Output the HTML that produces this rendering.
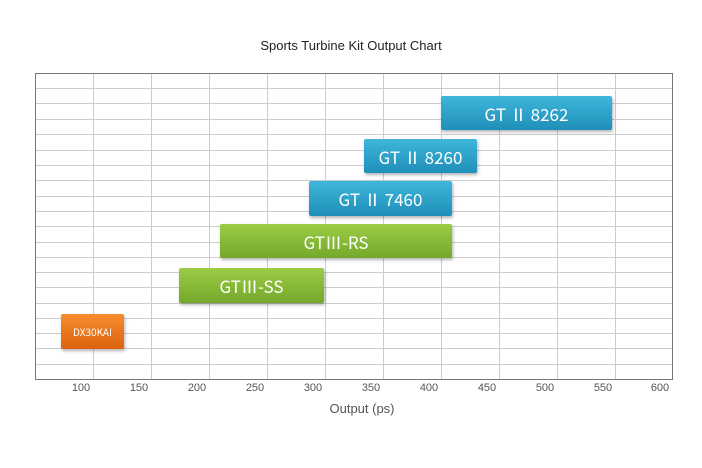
<!DOCTYPE html>
<html><head><meta charset="utf-8"><style>
body{margin:0;width:702px;height:468px;background:#fff;position:relative;overflow:hidden;font-family:"Liberation Sans","Noto Sans CJK JP",sans-serif}
.a{position:absolute}
.bar{position:absolute;color:#fff;display:flex;align-items:center;justify-content:center;font-size:17px;box-shadow:1px 2px 3px rgba(0,0,0,.3);border-radius:2px;font-family:"Noto Sans CJK JP",sans-serif}
.b{background:linear-gradient(#3fb6dc,#1f8fb8)}
.g{background:linear-gradient(#9ccc45,#74a82b)}
.o{background:linear-gradient(#f68d2e,#dc6210);font-size:10px}
.t{position:absolute;top:382px;font-size:11px;color:#555;width:40px;text-align:center}
</style></head><body>
<div class="a" style="left:0;width:702px;top:38px;text-align:center;font-size:13px;color:#222">Sports Turbine Kit Output Chart</div>
<svg class="a" style="left:0;top:0" width="702" height="468">
<g stroke="#ccc" stroke-width="1">
<line x1="35" x2="672" y1="88.5" y2="88.5"/><line x1="35" x2="672" y1="103.5" y2="103.5"/><line x1="35" x2="672" y1="119.5" y2="119.5"/><line x1="35" x2="672" y1="134.5" y2="134.5"/><line x1="35" x2="672" y1="150.5" y2="150.5"/><line x1="35" x2="672" y1="165.5" y2="165.5"/><line x1="35" x2="672" y1="180.5" y2="180.5"/><line x1="35" x2="672" y1="196.5" y2="196.5"/><line x1="35" x2="672" y1="211.5" y2="211.5"/><line x1="35" x2="672" y1="226.5" y2="226.5"/><line x1="35" x2="672" y1="242.5" y2="242.5"/><line x1="35" x2="672" y1="257.5" y2="257.5"/><line x1="35" x2="672" y1="272.5" y2="272.5"/><line x1="35" x2="672" y1="287.5" y2="287.5"/><line x1="35" x2="672" y1="303.5" y2="303.5"/><line x1="35" x2="672" y1="318.5" y2="318.5"/><line x1="35" x2="672" y1="333.5" y2="333.5"/><line x1="35" x2="672" y1="348.5" y2="348.5"/><line x1="35" x2="672" y1="364.5" y2="364.5"/>
<line y1="73" y2="379" x1="93.5" x2="93.5"/><line y1="73" y2="379" x1="151.5" x2="151.5"/><line y1="73" y2="379" x1="209.5" x2="209.5"/><line y1="73" y2="379" x1="267.5" x2="267.5"/><line y1="73" y2="379" x1="325.5" x2="325.5"/><line y1="73" y2="379" x1="383.5" x2="383.5"/><line y1="73" y2="379" x1="441.5" x2="441.5"/><line y1="73" y2="379" x1="499.5" x2="499.5"/><line y1="73" y2="379" x1="557.5" x2="557.5"/><line y1="73" y2="379" x1="615.5" x2="615.5"/>
</g>
<rect x="35.5" y="73.5" width="637" height="306" fill="none" stroke="#777"/>
</svg>
<div class="bar b" style="left:441px;top:96px;width:171px;height:34px">GT Ⅱ 8262</div>
<div class="bar b" style="left:364px;top:139px;width:113px;height:34px">GT Ⅱ 8260</div>
<div class="bar b" style="left:309px;top:181px;width:143px;height:35px">GT Ⅱ 7460</div>
<div class="bar g" style="left:220px;top:224px;width:232px;height:34px">GTⅢ-RS</div>
<div class="bar g" style="left:179px;top:268px;width:145px;height:35px">GTⅢ-SS</div>
<div class="bar o" style="left:61px;top:314px;width:63px;height:35px">DX30KAI</div>
<div class="t" style="left:61px">100</div><div class="t" style="left:119px">150</div><div class="t" style="left:177px">200</div><div class="t" style="left:235px">250</div><div class="t" style="left:293px">300</div><div class="t" style="left:351px">350</div><div class="t" style="left:409px">400</div><div class="t" style="left:467px">450</div><div class="t" style="left:525px">500</div><div class="t" style="left:583px">550</div><div class="t" style="left:640px">600</div>
<div class="a" style="left:302px;width:120px;top:401px;text-align:center;font-size:13px;color:#555">Output (ps)</div>
</body></html>
